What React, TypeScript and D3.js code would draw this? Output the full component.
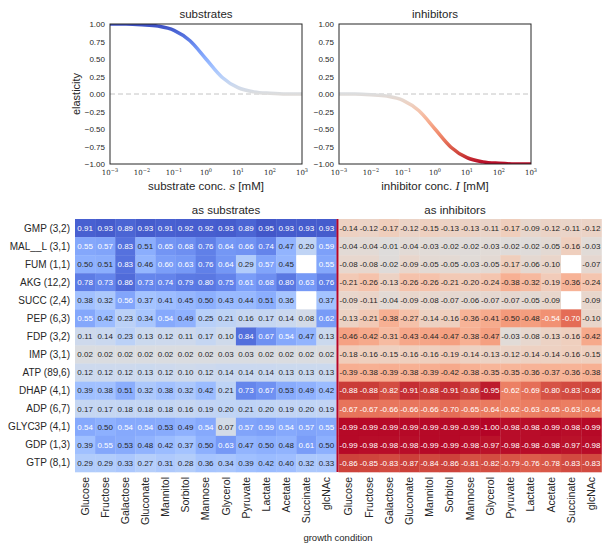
import React from "react";
import * as d3 from "d3";

// growth conditions (columns) and metabolites (rows)
const conditions = [
  "Glucose", "Fructose", "Galactose", "Gluconate", "Mannitol", "Sorbitol",
  "Mannose", "Glycerol", "Pyruvate", "Lactate", "Acetate", "Succinate", "glcNAc"
];
const metabolites = [
  "GMP (3,2)", "MAL__L (3,1)", "FUM (1,1)", "AKG (12,2)", "SUCC (2,4)", "PEP (6,3)",
  "FDP (3,2)", "IMP (3,1)", "ATP (89,6)", "DHAP (4,1)", "ADP (6,7)", "GLYC3P (4,1)",
  "GDP (1,3)", "GTP (8,1)"
];

// elasticities as substrates (null = no value)
const substrateValues: (number | null)[][] = [
  [0.91, 0.93, 0.89, 0.93, 0.91, 0.92, 0.92, 0.93, 0.89, 0.95, 0.93, 0.93, 0.93],
  [0.55, 0.57, 0.83, 0.51, 0.65, 0.68, 0.76, 0.64, 0.66, 0.74, 0.47, 0.20, 0.59],
  [0.50, 0.51, 0.83, 0.46, 0.60, 0.63, 0.76, 0.64, 0.29, 0.57, 0.45, null, 0.55],
  [0.78, 0.73, 0.86, 0.73, 0.74, 0.79, 0.80, 0.75, 0.61, 0.68, 0.80, 0.63, 0.76],
  [0.38, 0.32, 0.56, 0.37, 0.41, 0.45, 0.50, 0.43, 0.44, 0.51, 0.36, null, 0.37],
  [0.55, 0.42, 0.23, 0.34, 0.54, 0.49, 0.25, 0.21, 0.16, 0.17, 0.14, 0.08, 0.62],
  [0.11, 0.14, 0.23, 0.13, 0.12, 0.11, 0.17, 0.10, 0.84, 0.67, 0.54, 0.47, 0.13],
  [0.02, 0.02, 0.02, 0.02, 0.02, 0.02, 0.02, 0.03, 0.03, 0.02, 0.02, 0.02, 0.02],
  [0.12, 0.12, 0.12, 0.13, 0.12, 0.10, 0.12, 0.14, 0.14, 0.14, 0.13, 0.13, 0.13],
  [0.39, 0.38, 0.51, 0.32, 0.38, 0.32, 0.42, 0.21, 0.73, 0.67, 0.53, 0.49, 0.42],
  [0.17, 0.17, 0.18, 0.18, 0.18, 0.16, 0.19, 0.20, 0.21, 0.20, 0.19, 0.20, 0.19],
  [0.54, 0.50, 0.54, 0.54, 0.53, 0.49, 0.54, 0.07, 0.57, 0.59, 0.54, 0.57, 0.55],
  [0.39, 0.55, 0.53, 0.48, 0.42, 0.37, 0.50, 0.63, 0.47, 0.50, 0.48, 0.61, 0.50],
  [0.29, 0.29, 0.33, 0.27, 0.31, 0.28, 0.36, 0.34, 0.39, 0.42, 0.40, 0.32, 0.33]
];

// elasticities as inhibitors
const inhibitorValues: (number | null)[][] = [
  [-0.14, -0.12, -0.17, -0.12, -0.15, -0.13, -0.13, -0.11, -0.17, -0.09, -0.12, -0.11, -0.12],
  [-0.04, -0.04, -0.01, -0.04, -0.03, -0.02, -0.02, -0.03, -0.02, -0.02, -0.05, -0.16, -0.03],
  [-0.08, -0.08, -0.02, -0.09, -0.05, -0.05, -0.03, -0.05, -0.17, -0.06, -0.10, null, -0.07],
  [-0.21, -0.26, -0.13, -0.26, -0.26, -0.21, -0.20, -0.24, -0.38, -0.32, -0.19, -0.36, -0.24],
  [-0.09, -0.11, -0.04, -0.09, -0.08, -0.07, -0.06, -0.07, -0.07, -0.05, -0.09, null, -0.09],
  [-0.13, -0.21, -0.38, -0.27, -0.14, -0.16, -0.36, -0.41, -0.50, -0.48, -0.54, -0.70, -0.10],
  [-0.46, -0.42, -0.31, -0.43, -0.44, -0.47, -0.38, -0.47, -0.03, -0.08, -0.13, -0.16, -0.42],
  [-0.18, -0.16, -0.15, -0.16, -0.16, -0.19, -0.14, -0.13, -0.12, -0.14, -0.14, -0.16, -0.15],
  [-0.39, -0.38, -0.39, -0.38, -0.39, -0.42, -0.38, -0.35, -0.35, -0.36, -0.37, -0.36, -0.38],
  [-0.88, -0.88, -0.82, -0.91, -0.88, -0.91, -0.86, -0.95, -0.62, -0.69, -0.80, -0.83, -0.86],
  [-0.67, -0.67, -0.66, -0.66, -0.66, -0.70, -0.65, -0.64, -0.62, -0.63, -0.65, -0.63, -0.64],
  [-0.99, -0.99, -0.99, -0.99, -0.99, -0.99, -0.99, -1.00, -0.98, -0.98, -0.99, -0.98, -0.99],
  [-0.99, -0.98, -0.98, -0.98, -0.99, -0.99, -0.98, -0.97, -0.98, -0.98, -0.98, -0.97, -0.98],
  [-0.86, -0.85, -0.83, -0.87, -0.84, -0.86, -0.81, -0.82, -0.79, -0.76, -0.78, -0.83, -0.83]
];

// elasticity curves (log10 of concentration in mM)
const concExponents = [-3, -2.5, -2, -1.5, -1, -0.5, 0, 0.5, 1, 1.5, 2, 2.5, 3];
const substrateCurve = [1.0, 1.0, 0.99, 0.97, 0.91, 0.76, 0.5, 0.24, 0.09, 0.03, 0.01, 0.0, 0.0];
const inhibitorCurve = [0.0, 0.0, -0.01, -0.03, -0.09, -0.24, -0.5, -0.76, -0.91, -0.97, -0.99, -1.0, -1.0];

const yTicks = [1, 0.75, 0.5, 0.25, 0, -0.25, -0.5, -0.75, -1];
const xTickExps = [-3, -2, -1, 0, 1, 2, 3];

// coolwarm colormap, blue end first
const coolwarm = [
  "rgb(59,76,192)", "rgb(77,104,215)", "rgb(98,130,234)", "rgb(119,154,247)",
  "rgb(141,176,254)", "rgb(163,194,255)", "rgb(184,208,249)", "rgb(204,217,238)",
  "rgb(221,221,221)", "rgb(236,211,197)", "rgb(245,196,173)", "rgb(247,177,148)",
  "rgb(244,154,123)", "rgb(236,127,99)", "rgb(222,96,77)", "rgb(203,62,56)", "rgb(180,4,38)"
];

const font = "'Liberation Sans', Arial, sans-serif";
const ink = "#262626";
const minus = (s: string) => s.replace("-", "\u2212");
const fmt = (v: number) => d3.format(".2f")(v).replace("\u2212", "-");

const color = d3
  .scaleLinear<string>()
  .domain(coolwarm.map((_, i) => 1 - (2 * i) / (coolwarm.length - 1)))
  .range(coolwarm)
  .interpolate(d3.interpolateRgb);

// seaborn-like choice of annotation color
function textColor(c: string) {
  const rgb = d3.rgb(c);
  const lin = [rgb.r, rgb.g, rgb.b].map(v => {
    const x = v / 255;
    return x <= 0.03928 ? x / 12.92 : Math.pow((x + 0.055) / 1.055, 2.4);
  });
  const lum = 0.2126 * lin[0] + 0.7152 * lin[1] + 0.0722 * lin[2];
  return lum > 0.408 ? ink : "#ffffff";
}

function Panel({ x0, title, xName, xVar, curve, id, yLabel }) {
  const w = 192,
    top = 24,
    bottom = 164;
  const x = d3.scaleLog().domain([1e-3, 1e3]).range([x0, x0 + w]);
  const y = d3.scaleLinear().domain([-1, 1]).range([bottom, top]);
  const line = d3
    .line<number>()
    .x((_, i) => x(Math.pow(10, concExponents[i])))
    .y(d => y(d))
    .curve(d3.curveMonotoneX);

  return (
    <g>
      <defs>
        <linearGradient id={id} gradientUnits="userSpaceOnUse" x1={0} x2={0} y1={y(1)} y2={y(-1)}>
          {coolwarm.map((c, i) => (
            <stop key={i} offset={i / (coolwarm.length - 1)} stopColor={c} />
          ))}
        </linearGradient>
        <clipPath id={id + "-clip"}>
          <rect x={x0} y={top} width={w} height={bottom - top} />
        </clipPath>
      </defs>
      <rect x={x0} y={top} width={w} height={bottom - top} fill="#fff" />
      <line x1={x0} x2={x0 + w} y1={y(0)} y2={y(0)} stroke="#c4c4c4" strokeWidth={1} strokeDasharray="5,3" />
      <path
        d={line(curve) || ""}
        fill="none"
        stroke={`url(#${id})`}
        strokeWidth={3.5}
        clipPath={`url(#${id}-clip)`}
      />
      <rect x={x0} y={top} width={w} height={bottom - top} fill="none" stroke={ink} strokeWidth={1} />
      {yTicks.map(t => (
        <text key={t} x={x0 - 5} y={y(t) + 3} fontSize={8} fill={ink} textAnchor="end" fontFamily={font}>
          {minus(d3.format(".2f")(t))}
        </text>
      ))}
      {xTickExps.map(e => (
        <text
          key={e}
          x={x(Math.pow(10, e))}
          y={175}
          fontSize={7}
          fill={ink}
          textAnchor="middle"
          fontFamily="'DejaVu Serif', 'Liberation Serif', serif"
        >
          10
          <tspan dy={-3.5} fontSize={5}>
            {minus(String(e))}
          </tspan>
        </text>
      ))}
      <text x={x0 + w / 2} y={18} fontSize={11.5} fill={ink} textAnchor="middle" fontFamily={font}>
        {title}
      </text>
      <text x={x0 + w / 2} y={190} fontSize={11.5} fill={ink} textAnchor="middle" fontFamily={font}>
        {xName}{" "}
        <tspan fontStyle="italic" fontFamily="'DejaVu Serif', 'Liberation Serif', serif">
          {xVar}
        </tspan>{" "}
        [mM]
      </text>
      {yLabel && (
        <text
          transform={`translate(${x0 - 30.5},94) rotate(-90)`}
          fontSize={11}
          fill={ink}
          textAnchor="middle"
          fontFamily={font}
        >
          {yLabel}
        </text>
      )}
    </g>
  );
}

function HeatBlock({ values, x0, x1, rows }) {
  const x = d3.scaleBand<string>().domain(conditions).range([x0, x1]);
  return (
    <g>
      {values.map((row, r) =>
        row.map((v, c) => {
          const cx = x(conditions[c]) as number;
          const cy = rows(metabolites[r]) as number;
          if (v === null) {
            return <rect key={`${r}-${c}`} x={cx} y={cy} width={x.bandwidth()} height={rows.bandwidth()} fill="#fff" />;
          }
          const fill = color(v);
          return (
            <g key={`${r}-${c}`}>
              <rect x={cx} y={cy} width={x.bandwidth() + 0.3} height={rows.bandwidth() + 0.3} fill={fill} />
              <text
                x={cx + x.bandwidth() / 2}
                y={cy + rows.bandwidth() / 2 + 2.8}
                fontSize={8}
                textAnchor="middle"
                fill={textColor(fill)}
                fontFamily={font}
              >
                {fmt(v)}
              </text>
            </g>
          );
        })
      )}
    </g>
  );
}

export default function App() {
  const rows = d3.scaleBand<string>().domain(metabolites).range([219, 472]);
  const colsAll = d3.scaleBand<string>().domain(conditions).range([75, 336.5]);
  const colsInh = d3.scaleBand<string>().domain(conditions).range([338.5, 601.5]);

  return (
    <svg width={610} height={553} style={{ position: "absolute", left: 0, top: 0, background: "#fff" }}>
      <Panel x0={110} title="substrates" xName="substrate conc." xVar="s" curve={substrateCurve} id="gs" yLabel="elasticity" />
      <Panel x0={339} title="inhibitors" xName="inhibitor conc." xVar="I" curve={inhibitorCurve} id="gi" yLabel={null} />

      <text x={226} y={214} fontSize={11.5} fill={ink} textAnchor="middle" fontFamily={font}>
        as substrates
      </text>
      <text x={455} y={214} fontSize={11.5} fill={ink} textAnchor="middle" fontFamily={font}>
        as inhibitors
      </text>

      <HeatBlock values={substrateValues} x0={75} x1={336.5} rows={rows} />
      <HeatBlock values={inhibitorValues} x0={338.5} x1={601.5} rows={rows} />
      <line x1={337.5} x2={337.5} y1={219} y2={472} stroke="#b40426" strokeWidth={2} />

      {metabolites.map(m => (
        <text
          key={m}
          x={70}
          y={(rows(m) as number) + rows.bandwidth() / 2 + 3.5}
          fontSize={10}
          fill={ink}
          textAnchor="end"
          fontFamily={font}
        >
          {m}
        </text>
      ))}
      {[colsAll, colsInh].map((cols, k) =>
        conditions.map(c => (
          <text
            key={`${k}-${c}`}
            transform={`translate(${(cols(c) as number) + cols.bandwidth() / 2 + 3.7},477) rotate(-90)`}
            fontSize={10.5}
            fill={ink}
            textAnchor="end"
            fontFamily={font}
          >
            {c}
          </text>
        ))
      )}
      <text x={338} y={541} fontSize={9.5} fill={ink} textAnchor="middle" fontFamily={font}>
        growth condition
      </text>
    </svg>
  );
}
